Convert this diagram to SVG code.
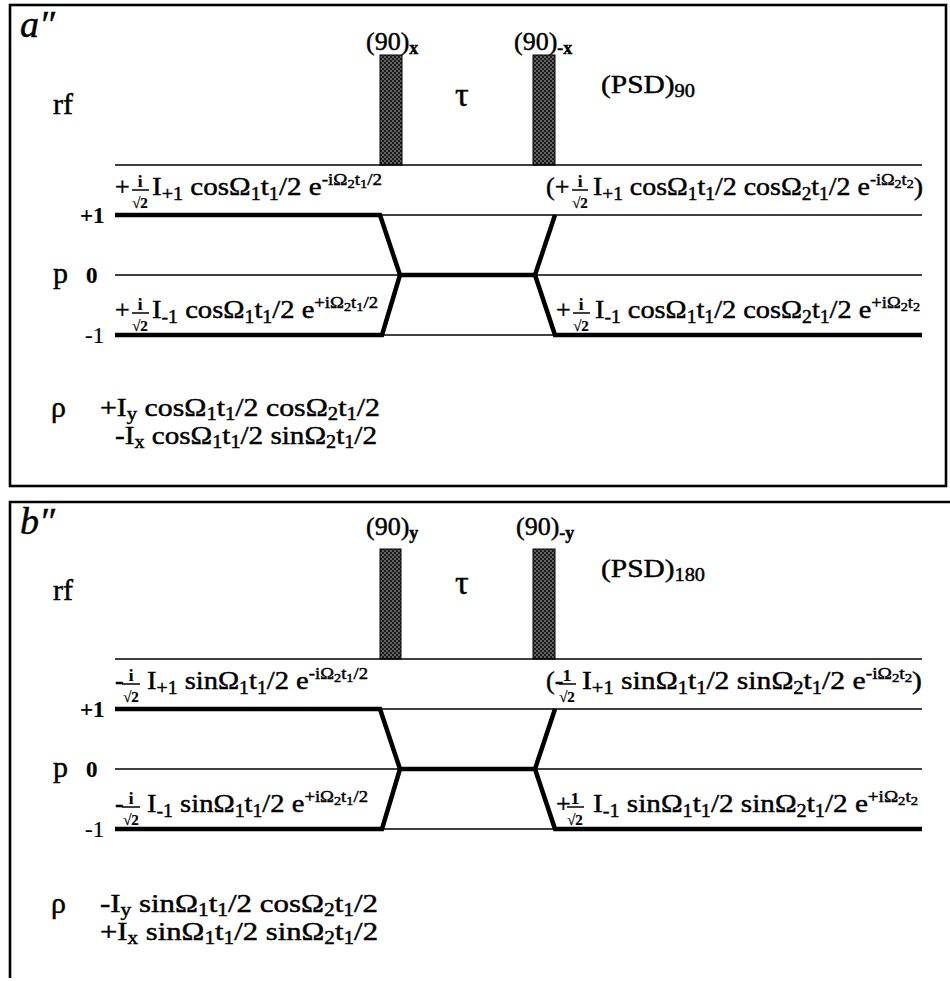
<svg xmlns="http://www.w3.org/2000/svg" width="950" height="981" viewBox="0 0 950 981" font-family="'Liberation Serif', 'Times New Roman', serif">
<style>
text{font-family:'Liberation Serif','Times New Roman',serif;fill:#000;stroke:#000;stroke-width:0.45}
.m{font-size:26px}
.s{font-size:18px}
.p{font-size:17px}
.q{font-size:13px}
.lab{font-size:30px}
.lvl{font-size:23px;font-weight:bold;stroke-width:0.2}
.it{font-size:38px;font-style:italic}
.fi{font-size:17px;text-anchor:middle;font-weight:bold;stroke-width:0.2}
.fs{font-size:15px;font-weight:bold;text-anchor:middle;stroke-width:0.2}
.fb{stroke:#000;stroke-width:1.5}
.thin{stroke:#000;stroke-width:1.7;fill:none}
.thick{stroke:#000;stroke-width:4.5;fill:none;stroke-linejoin:miter}
.frame{stroke:#000;stroke-width:2.6;fill:none}
.pulse{fill:url(#stip);stroke:#000;stroke-width:1}
</style>
<defs>
<pattern id="stip" width="4" height="4" patternUnits="userSpaceOnUse">
<rect width="4" height="4" fill="#1a1a1a"/>
<circle cx="1" cy="1" r="0.8" fill="#bbb"/>
<circle cx="3" cy="3" r="0.8" fill="#bbb"/>
</pattern>
</defs>
<rect width="950" height="981" fill="#fff"/>

<!-- Panel a'' -->
<g id="panel-a">
<rect id="frame-a" class="frame" x="10" y="5" width="936" height="481"/>
<g id="a-labels">
<text class="it" x="20" y="37">a″</text>
<text class="lab" x="53" y="114">rf</text>
<text class="lab" x="455" y="106" style="font-size:34px">τ</text>
<text class="lvl" x="80" y="223">+1</text>
<text class="lab" x="53" y="283">p</text>
<text class="lvl" x="86" y="283">0</text>
<text class="lvl" x="85" y="343" style="font-weight:normal">-1</text>
<text class="lab" x="51" y="417">ρ</text>
</g>
<g id="a-pulse1">
<text class="m" x="366" y="50">(90)<tspan class="s" dy="4" font-weight="bold">x</tspan></text>
<rect class="pulse" x="380" y="55" width="22" height="110"/>
</g>
<g id="a-pulse2">
<text class="m" x="514" y="50">(90)<tspan class="s" dy="4" font-weight="bold">-x</tspan></text>
<rect class="pulse" x="533" y="55" width="22" height="110"/>
</g>
<g id="a-psd">
<text class="m" x="601" y="93" textLength="94" lengthAdjust="spacingAndGlyphs">(PSD)<tspan class="s" dy="4">90</tspan></text>
</g>
<g id="a-connectors">
<line class="thin" x1="115" y1="165" x2="922" y2="165"/>
<line class="thin" x1="115" y1="215" x2="922" y2="215"/>
<line class="thin" x1="115" y1="275" x2="922" y2="275"/>
<line class="thin" x1="115" y1="335" x2="922" y2="335"/>
<path class="thick" d="M115,215 L380,215 L400,275 L535,275 L555,215"/>
<path class="thick" d="M115,335 L382,335 L400,275"/>
<path class="thick" d="M535,275 L555,335 L922,335"/>
</g>
<g id="a-term-p1">
<text class="m" x="115" y="195">+</text>
<text class="fi" x="140" y="187">i</text><line class="fb" x1="132" y1="190" x2="149" y2="190"/><text class="fs" x="140" y="208">√2</text>
<text class="m" x="152" y="195" textLength="230" lengthAdjust="spacingAndGlyphs">I<tspan class="s" dy="5">+1</tspan><tspan dy="-5"> cosΩ</tspan><tspan class="s" dy="5">1</tspan><tspan dy="-5">t</tspan><tspan class="s" dy="5">1</tspan><tspan dy="-5">/2 e</tspan><tspan class="p" dy="-10">-iΩ</tspan><tspan class="q" dy="3">2</tspan><tspan class="p" dy="-3">t</tspan><tspan class="q" dy="3">1</tspan><tspan class="p" dy="-3">/2</tspan></text>
</g>
<g id="a-term-p1-out">
<text class="m" x="546" y="195">(+</text>
<text class="fi" x="580" y="187">i</text><line class="fb" x1="572" y1="190" x2="588" y2="190"/><text class="fs" x="580" y="208">√2</text>
<text class="m" x="593" y="195" textLength="330" lengthAdjust="spacingAndGlyphs">I<tspan class="s" dy="5">+1</tspan><tspan dy="-5"> cosΩ</tspan><tspan class="s" dy="5">1</tspan><tspan dy="-5">t</tspan><tspan class="s" dy="5">1</tspan><tspan dy="-5">/2 cosΩ</tspan><tspan class="s" dy="5">2</tspan><tspan dy="-5">t</tspan><tspan class="s" dy="5">1</tspan><tspan dy="-5">/2 e</tspan><tspan class="p" dy="-10">-iΩ</tspan><tspan class="q" dy="3">2</tspan><tspan class="p" dy="-3">t</tspan><tspan class="q" dy="3">2</tspan><tspan dy="7">)</tspan></text>
</g>
<g id="a-term-m1">
<text class="m" x="115" y="318">+</text>
<text class="fi" x="140" y="310">i</text><line class="fb" x1="132" y1="313" x2="149" y2="313"/><text class="fs" x="140" y="331">√2</text>
<text class="m" x="152" y="318" textLength="226" lengthAdjust="spacingAndGlyphs">I<tspan class="s" dy="5">-1</tspan><tspan dy="-5"> cosΩ</tspan><tspan class="s" dy="5">1</tspan><tspan dy="-5">t</tspan><tspan class="s" dy="5">1</tspan><tspan dy="-5">/2 e</tspan><tspan class="p" dy="-10">+iΩ</tspan><tspan class="q" dy="3">2</tspan><tspan class="p" dy="-3">t</tspan><tspan class="q" dy="3">1</tspan><tspan class="p" dy="-3">/2</tspan></text>
</g>
<g id="a-term-m1-out">
<text class="m" x="556" y="318">+</text>
<text class="fi" x="581" y="310">i</text><line class="fb" x1="573" y1="313" x2="590" y2="313"/><text class="fs" x="581" y="331">√2</text>
<text class="m" x="595" y="318" textLength="325" lengthAdjust="spacingAndGlyphs">I<tspan class="s" dy="5">-1</tspan><tspan dy="-5"> cosΩ</tspan><tspan class="s" dy="5">1</tspan><tspan dy="-5">t</tspan><tspan class="s" dy="5">1</tspan><tspan dy="-5">/2 cosΩ</tspan><tspan class="s" dy="5">2</tspan><tspan dy="-5">t</tspan><tspan class="s" dy="5">1</tspan><tspan dy="-5">/2 e</tspan><tspan class="p" dy="-10">+iΩ</tspan><tspan class="q" dy="3">2</tspan><tspan class="p" dy="-3">t</tspan><tspan class="q" dy="3">2</tspan></text>
</g>
<g id="a-rho">
<text class="m" x="100" y="416" textLength="280" lengthAdjust="spacingAndGlyphs">+I<tspan class="s" dy="4">y</tspan><tspan dy="-4"> cosΩ</tspan><tspan class="s" dy="4">1</tspan><tspan dy="-4">t</tspan><tspan class="s" dy="4">1</tspan><tspan dy="-4">/2 cosΩ</tspan><tspan class="s" dy="4">2</tspan><tspan dy="-4">t</tspan><tspan class="s" dy="4">1</tspan><tspan dy="-4">/2</tspan></text>
<text class="m" x="115" y="444" textLength="262" lengthAdjust="spacingAndGlyphs">-I<tspan class="s" dy="4">x</tspan><tspan dy="-4"> cosΩ</tspan><tspan class="s" dy="4">1</tspan><tspan dy="-4">t</tspan><tspan class="s" dy="4">1</tspan><tspan dy="-4">/2 sinΩ</tspan><tspan class="s" dy="4">2</tspan><tspan dy="-4">t</tspan><tspan class="s" dy="4">1</tspan><tspan dy="-4">/2</tspan></text>
</g>
</g>

<!-- Panel b'' -->
<g id="panel-b">
<path id="frame-b" class="frame" d="M950,502 L10,502 L10,978"/>
<g id="b-labels">
<text class="it" x="20" y="534">b″</text>
<text class="lab" x="53" y="600">rf</text>
<text class="lab" x="455" y="594" style="font-size:34px">τ</text>
<text class="lvl" x="80" y="717">+1</text>
<text class="lab" x="53" y="777">p</text>
<text class="lvl" x="86" y="777">0</text>
<text class="lvl" x="85" y="837" style="font-weight:normal">-1</text>
<text class="lab" x="51" y="913">ρ</text>
</g>
<g id="b-pulse1">
<text class="m" x="366" y="535">(90)<tspan class="s" dy="4" font-weight="bold">y</tspan></text>
<rect class="pulse" x="380" y="549" width="21" height="110"/>
</g>
<g id="b-pulse2">
<text class="m" x="516" y="535">(90)<tspan class="s" dy="4" font-weight="bold">-y</tspan></text>
<rect class="pulse" x="533" y="549" width="22" height="110"/>
</g>
<g id="b-psd">
<text class="m" x="601" y="577" textLength="104" lengthAdjust="spacingAndGlyphs">(PSD)<tspan class="s" dy="4">180</tspan></text>
</g>
<g id="b-connectors">
<line class="thin" x1="115" y1="659" x2="922" y2="659"/>
<line class="thin" x1="115" y1="709" x2="922" y2="709"/>
<line class="thin" x1="115" y1="769" x2="922" y2="769"/>
<line class="thin" x1="115" y1="829" x2="922" y2="829"/>
<path class="thick" d="M115,709 L380,709 L400,769 L535,769 L555,709"/>
<path class="thick" d="M115,829 L382,829 L400,769"/>
<path class="thick" d="M535,769 L555,829 L922,829"/>
</g>
<g id="b-term-p1">
<text class="m" x="115" y="689">-</text>
<text class="fi" x="131" y="681">i</text><line class="fb" x1="122" y1="684" x2="140" y2="684"/><text class="fs" x="131" y="702">√2</text>
<text class="m" x="147" y="689" textLength="221" lengthAdjust="spacingAndGlyphs">I<tspan class="s" dy="5">+1</tspan><tspan dy="-5"> sinΩ</tspan><tspan class="s" dy="5">1</tspan><tspan dy="-5">t</tspan><tspan class="s" dy="5">1</tspan><tspan dy="-5">/2 e</tspan><tspan class="p" dy="-10">-iΩ</tspan><tspan class="q" dy="3">2</tspan><tspan class="p" dy="-3">t</tspan><tspan class="q" dy="3">1</tspan><tspan class="p" dy="-3">/2</tspan></text>
</g>
<g id="b-term-p1-out">
<text class="m" x="546" y="689">(-</text>
<text class="fi" x="567" y="681">1</text><line class="fb" x1="559" y1="684" x2="576" y2="684"/><text class="fs" x="567" y="702">√2</text>
<text class="m" x="582" y="689" textLength="340" lengthAdjust="spacingAndGlyphs">I<tspan class="s" dy="5">+1</tspan><tspan dy="-5"> sinΩ</tspan><tspan class="s" dy="5">1</tspan><tspan dy="-5">t</tspan><tspan class="s" dy="5">1</tspan><tspan dy="-5">/2 sinΩ</tspan><tspan class="s" dy="5">2</tspan><tspan dy="-5">t</tspan><tspan class="s" dy="5">1</tspan><tspan dy="-5">/2 e</tspan><tspan class="p" dy="-10">-iΩ</tspan><tspan class="q" dy="3">2</tspan><tspan class="p" dy="-3">t</tspan><tspan class="q" dy="3">2</tspan><tspan dy="7">)</tspan></text>
</g>
<g id="b-term-m1">
<text class="m" x="115" y="812">-</text>
<text class="fi" x="131" y="804">i</text><line class="fb" x1="122" y1="807" x2="140" y2="807"/><text class="fs" x="131" y="825">√2</text>
<text class="m" x="147" y="812" textLength="221" lengthAdjust="spacingAndGlyphs">I<tspan class="s" dy="5">-1</tspan><tspan dy="-5"> sinΩ</tspan><tspan class="s" dy="5">1</tspan><tspan dy="-5">t</tspan><tspan class="s" dy="5">1</tspan><tspan dy="-5">/2 e</tspan><tspan class="p" dy="-10">+iΩ</tspan><tspan class="q" dy="3">2</tspan><tspan class="p" dy="-3">t</tspan><tspan class="q" dy="3">1</tspan><tspan class="p" dy="-3">/2</tspan></text>
</g>
<g id="b-term-m1-out">
<text class="m" x="556" y="812">+</text>
<text class="fi" x="575" y="804">1</text><line class="fb" x1="567" y1="807" x2="584" y2="807"/><text class="fs" x="575" y="825">√2</text>
<text class="m" x="593" y="812" textLength="325" lengthAdjust="spacingAndGlyphs">I<tspan class="s" dy="5">-1</tspan><tspan dy="-5"> sinΩ</tspan><tspan class="s" dy="5">1</tspan><tspan dy="-5">t</tspan><tspan class="s" dy="5">1</tspan><tspan dy="-5">/2 sinΩ</tspan><tspan class="s" dy="5">2</tspan><tspan dy="-5">t</tspan><tspan class="s" dy="5">1</tspan><tspan dy="-5">/2 e</tspan><tspan class="p" dy="-10">+iΩ</tspan><tspan class="q" dy="3">2</tspan><tspan class="p" dy="-3">t</tspan><tspan class="q" dy="3">2</tspan></text>
</g>
<g id="b-rho">
<text class="m" x="100" y="912" textLength="278" lengthAdjust="spacingAndGlyphs">-I<tspan class="s" dy="4">y</tspan><tspan dy="-4"> sinΩ</tspan><tspan class="s" dy="4">1</tspan><tspan dy="-4">t</tspan><tspan class="s" dy="4">1</tspan><tspan dy="-4">/2 cosΩ</tspan><tspan class="s" dy="4">2</tspan><tspan dy="-4">t</tspan><tspan class="s" dy="4">1</tspan><tspan dy="-4">/2</tspan></text>
<text class="m" x="100" y="940" textLength="278" lengthAdjust="spacingAndGlyphs">+I<tspan class="s" dy="4">x</tspan><tspan dy="-4"> sinΩ</tspan><tspan class="s" dy="4">1</tspan><tspan dy="-4">t</tspan><tspan class="s" dy="4">1</tspan><tspan dy="-4">/2 sinΩ</tspan><tspan class="s" dy="4">2</tspan><tspan dy="-4">t</tspan><tspan class="s" dy="4">1</tspan><tspan dy="-4">/2</tspan></text>
</g>
</g>
</svg>
